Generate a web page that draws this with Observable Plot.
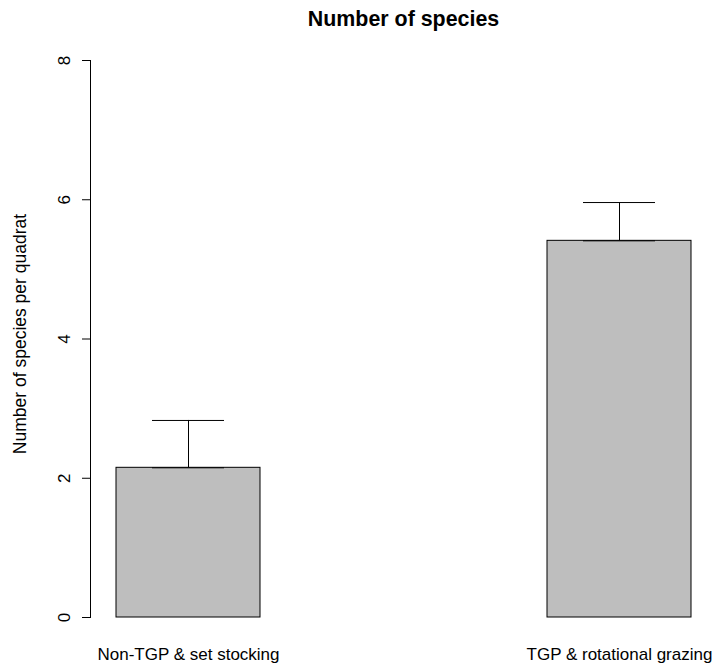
<!DOCTYPE html>
<html>
<head>
<meta charset="utf-8">
<script src="https://cdn.jsdelivr.net/npm/d3@7"></script>
<script src="https://cdn.jsdelivr.net/npm/@observablehq/plot@0.6"></script>
<style>
  html, body { margin: 0; padding: 0; background: #fff; }
</style>
</head>
<body>
<div id="chart"></div>
<script>
const categories = ["Non-TGP & set stocking", "TGP & rotational grazing"];
const means = [2.15, 5.41];
const uppers = [2.83, 5.96];
const yTicks = [0, 2, 4, 6, 8];
const title = "Number of species";
const yLabel = "Number of species per quadrat";

const data = categories.map((c, i) => ({cat: c, mean: means[i], upper: uppers[i]}));

const chart = Plot.plot({
  width: 716,
  height: 668,
  marginTop: 60,
  marginBottom: 51,
  marginLeft: 90,
  marginRight: 0,
  style: {fontFamily: "'Liberation Sans', Arial, Helvetica, sans-serif", fontSize: "17px", background: "#fff", color: "#000"},
  x: {domain: categories, paddingInner: 2/3, paddingOuter: 0.058, axis: null},
  y: {domain: [0, 8], axis: null},
  marks: [
    Plot.barY(data, {x: "cat", y: "mean", fill: "#bebebe", stroke: "#000", strokeWidth: 1}),
    Plot.ruleX(data, {x: "cat", y1: "mean", y2: "upper", stroke: "#000", strokeWidth: 1}),
    Plot.tickY(data, {x: "cat", y: "upper", insetLeft: 36, insetRight: 36, stroke: "#000", strokeWidth: 1}),
    Plot.tickY(data, {x: "cat", y: "mean", insetLeft: 36, insetRight: 36, stroke: "#000", strokeWidth: 1}),
    Plot.frame({anchor: "left", stroke: "#000", strokeWidth: 1}),
    Plot.axisY({ticks: yTicks, tickSize: 8, tickPadding: 13, tickRotate: -90, label: null, tickFormat: d => String(d)}),
    Plot.axisX({tickSize: 0, tickPadding: 30, label: null}),
    Plot.text([yLabel], {frameAnchor: "left", dx: -70, dy: -5, rotate: -90, text: d => d, fontSize: 17.5, textAnchor: "middle", lineAnchor: "middle"}),
    Plot.text([title], {frameAnchor: "top", dy: -41, text: d => d, fontSize: 21.4, fontWeight: "bold", textAnchor: "middle", lineAnchor: "middle"})
  ]
});
document.getElementById("chart").appendChild(chart);
</script>
</body>
</html>
